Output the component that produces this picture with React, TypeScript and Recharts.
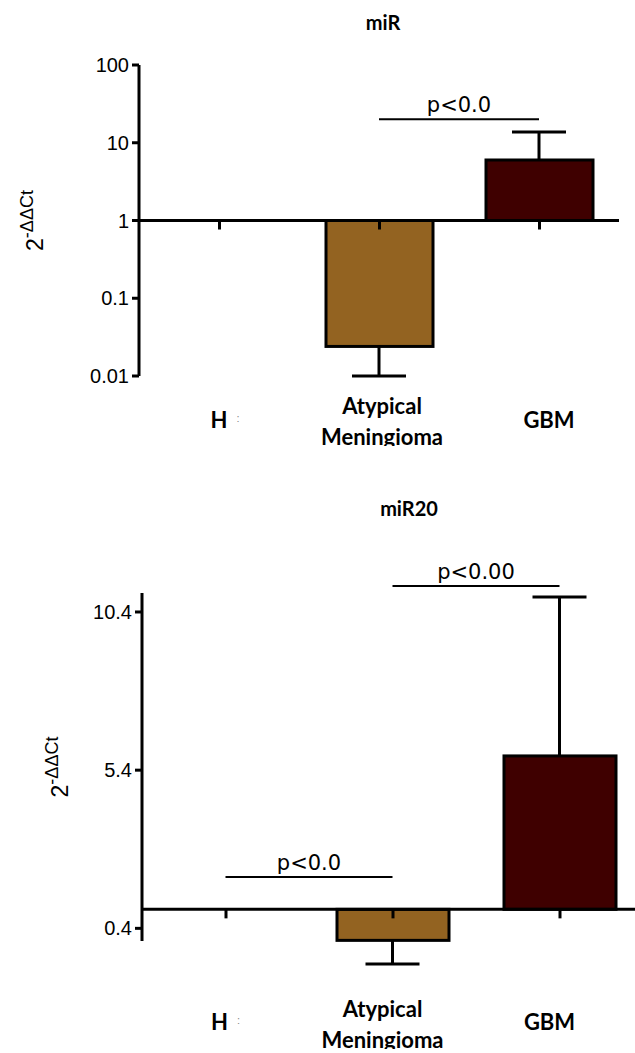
import React from "react";
import { ComposedChart, Bar, XAxis, YAxis, ReferenceLine } from "recharts";

const categories = ["H", "Atypical Meningioma", "GBM"];
const barColors = ["#ffffff", "#936321", "#3f0000"];

// miR panel (log axis, baseline at 1)
const mirValues = [1, 0.024, 6.0];
const mirErrEnds = [1, 0.01, 13.7];
const mirTicks = [0.01, 0.1, 1, 10, 100];
const mirSig = [{ from: "Atypical Meningioma", to: "GBM", y: 20, text: "p<0.0" }];

// miR20 panel (linear axis, baseline at 1)
const mir20Values = [1, 0.02, 5.85];
const mir20ErrEnds = [1, -0.73, 10.87];
const mir20Ticks = [0.4, 5.4, 10.4];
const mir20Sig = [
  { from: "H", to: "Atypical Meningioma", y: 2.02, text: "p<0.0" },
  { from: "Atypical Meningioma", to: "GBM", y: 11.22, text: "p<0.00" },
];

const BASE = 1;

const buildRows = (values: number[], errEnds: number[]) =>
  categories.map((name, i) => {
    const v = values[i];
    return {
      name,
      value: v,
      range: v < BASE ? [v, BASE] : [BASE, v],
      errEnd: errEnds[i],
      color: barColors[i],
    };
  });

const tickFont = "'Liberation Sans', Arial, sans-serif";
const labelFont = "Lato, 'Open Sans', sans-serif";

// bar rect plus the small category tick hanging under the baseline
const BarShape = (props: any) => {
  const { x, y, width, height, payload } = props;
  const top = Math.min(y, y + height);
  const bot = Math.max(y, y + height);
  const base = payload.value < BASE ? top : bot;
  const cx = x + width / 2;
  return (
    <g>
      {bot - top > 0.5 && (
        <rect x={x} y={top} width={width} height={bot - top} fill={payload.color} stroke="#000" strokeWidth={3} />
      )}
      <line x1={cx} x2={cx} y1={base} y2={base + 9} stroke="#000" strokeWidth={3} />
    </g>
  );
};

// whisker from bar end to error end, cap only at the far end
const ErrShape = (props: any) => {
  const { x1, y1, x2, y2 } = props;
  return (
    <g>
      <line x1={x1} y1={y1} x2={x2} y2={y2} stroke="#000" strokeWidth={3} />
      <line x1={x2 - 27} y1={y2} x2={x2 + 27} y2={y2} stroke="#000" strokeWidth={3} />
    </g>
  );
};

const CatTick = (props: any) => {
  const { x, y, payload, index, dxs, single, double, cut } = props;
  const words = String(payload.value).split(" ");
  const cx = x + dxs[index];
  return (
    <g>
      {words.length === 1 ? (
        <text x={cx} y={y + single} textAnchor="middle" fontFamily={labelFont} fontWeight={700} fontSize={22} fill="#000">
          {words[0]}
        </text>
      ) : (
        <>
          {words.map((w: string, i: number) => (
            <text key={w} x={cx} y={y + double[i]} textAnchor="middle" fontFamily={labelFont} fontWeight={700} fontSize={22} fill="#000">
              {w}
            </text>
          ))}
          {/* the source picture crops the descenders of the second line */}
          <rect x={cx - 70} y={y + double[1] + 1} width={140} height={14} fill="#fff" opacity={cut ? 1 : 0} />
        </>
      )}
      {words[0] === "H" && (
        <text x={cx + 19} y={y + single - 6} textAnchor="middle" fontSize={11} fill="#888" fontFamily={tickFont}>
          :
        </text>
      )}
    </g>
  );
};

const YLabel = (props: any) => {
  const { viewBox, bx } = props;
  const cy = viewBox.y + viewBox.height / 2;
  const x = viewBox.x + bx;
  return (
    <text x={x} y={cy} transform={`rotate(-90 ${x} ${cy})`} textAnchor="middle" fontFamily={tickFont} fill="#000">
      <tspan fontSize={23}>2</tspan>
      <tspan fontSize={18} dy={-10}>-ΔΔCt</tspan>
    </text>
  );
};

interface PanelProps {
  top: number;
  width: number;
  height: number;
  margin: { top: number; right: number; left: number; bottom: number };
  yAxisWidth: number;
  xAxisHeight: number;
  scale: "log" | "linear";
  domain: number[];
  ticks: number[];
  rows: any[];
  sig: { from: string; to: string; y: number; text: string }[];
  barSize: number;
  labelX: number;
  dxs: number[];
  single: number;
  double: number[];
  title: string;
  titleX: number;
  titleY: number;
}

function Panel(p: PanelProps) {
  return (
    <>
      <div
        style={{
          position: "absolute",
          left: p.titleX - 100,
          top: p.titleY - 12,
          width: 200,
          lineHeight: "24px",
          textAlign: "center",
          fontFamily: labelFont,
          fontWeight: 700,
          fontSize: 20,
          color: "#000",
        }}
      >
        {p.title}
      </div>
      <div style={{ position: "absolute", left: 0, top: p.top }}>
        <ComposedChart width={p.width} height={p.height} data={p.rows} margin={p.margin}>
          <XAxis
            dataKey="name"
            type="category"
            height={p.xAxisHeight}
            axisLine={false}
            tickLine={false}
            tickSize={0}
            tickMargin={0}
            interval={0}
            tick={(tp: any) => <CatTick {...tp} dxs={p.dxs} single={p.single} double={p.double} cut />}
          />
          <YAxis
            type="number"
            scale={p.scale}
            domain={p.domain}
            ticks={p.ticks}
            interval={0}
            width={p.yAxisWidth}
            axisLine={{ stroke: "#000", strokeWidth: 3 }}
            tickLine={{ stroke: "#000", strokeWidth: 3 }}
            tickSize={7}
            tickMargin={3}
            tick={{ fill: "#000", fontSize: 20, fontFamily: tickFont }}
            label={(lp: any) => <YLabel {...lp} bx={p.labelX} />}
          />
          <Bar dataKey="range" barSize={p.barSize} shape={BarShape} isAnimationActive={false} />
          <ReferenceLine y={BASE} stroke="#000" strokeWidth={3} ifOverflow="visible" />
          {p.rows
            .filter((r) => r.errEnd !== r.value)
            .map((r) => (
              <ReferenceLine
                key={"err-" + r.name}
                segment={[
                  { x: r.name, y: r.value },
                  { x: r.name, y: r.errEnd },
                ]}
                ifOverflow="visible"
                shape={ErrShape}
              />
            ))}
          {p.sig.map((s) => (
            <ReferenceLine
              key={s.text + s.from}
              segment={[
                { x: s.from, y: s.y },
                { x: s.to, y: s.y },
              ]}
              stroke="#000"
              strokeWidth={2}
              ifOverflow="visible"
              label={{
                value: s.text,
                position: "top",
                offset: 7,
                fill: "#000",
                fontSize: 21,
                fontFamily: "'DejaVu Sans', Verdana, sans-serif",
              }}
            />
          ))}
        </ComposedChart>
      </div>
    </>
  );
}

export default function App() {
  return (
    <div
      style={{
        position: "absolute",
        left: 0,
        top: 0,
        width: 635,
        height: 1053,
        overflow: "hidden",
        background: "#fff",
      }}
    >
      <Panel
        top={0}
        width={635}
        height={470}
        margin={{ top: 65, right: 16, left: 0, bottom: 0 }}
        yAxisWidth={139}
        xAxisHeight={94}
        scale="log"
        domain={[0.01, 100]}
        ticks={mirTicks}
        rows={buildRows(mirValues, mirErrEnds)}
        sig={mirSig}
        barSize={107}
        labelX={43}
        dxs={[0, 3, 10]}
        single={52}
        double={[38, 69]}
        title="miR"
        titleX={383}
        titleY={22}
      />
      <Panel
        top={500}
        width={643}
        height={553}
        margin={{ top: 93, right: 0, left: 0, bottom: 0 }}
        yAxisWidth={142}
        xAxisHeight={112}
        scale="linear"
        domain={[0, 11]}
        ticks={mir20Ticks}
        rows={buildRows(mir20Values, mir20ErrEnds)}
        sig={mir20Sig}
        barSize={112}
        labelX={68}
        dxs={[-6, -10, -10]}
        single={89}
        double={[76, 107]}
        title="miR20"
        titleX={409}
        titleY={508}
      />
    </div>
  );
}
